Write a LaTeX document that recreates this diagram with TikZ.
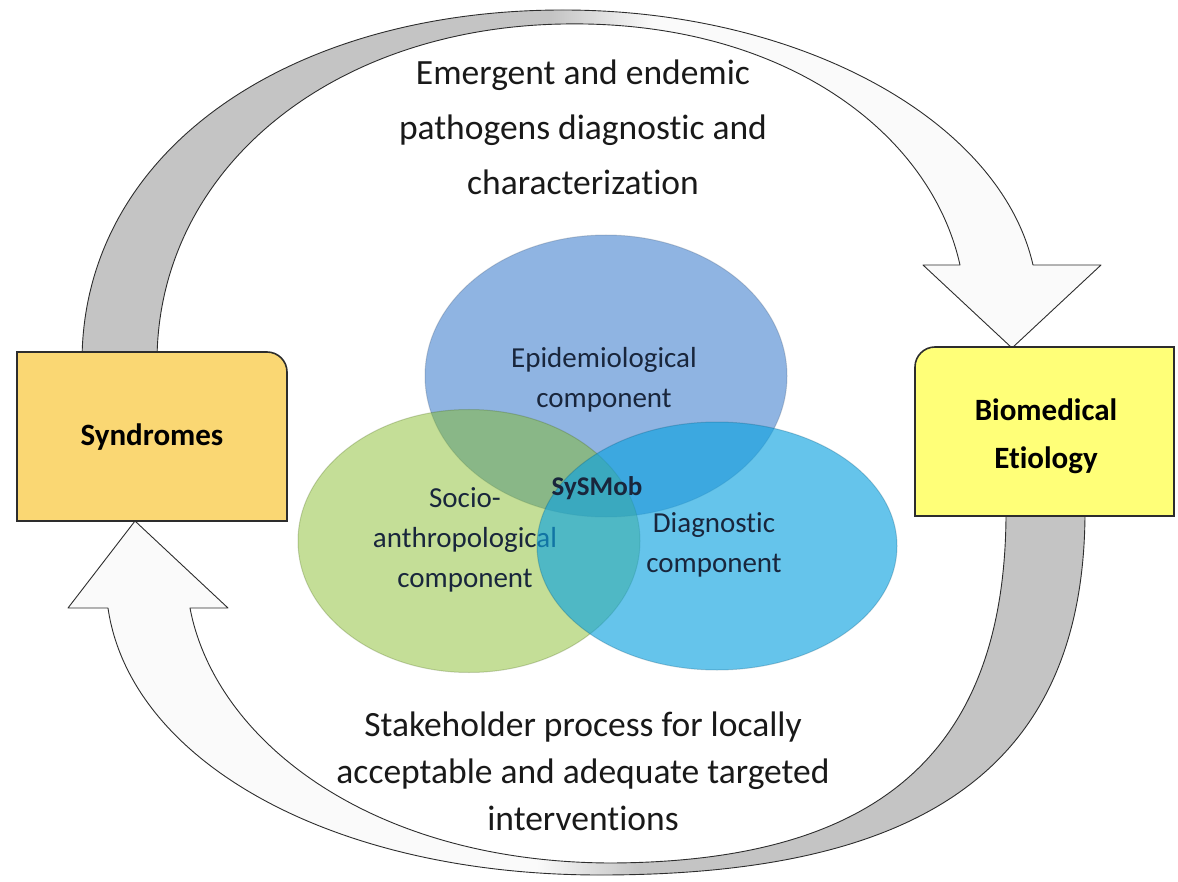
\documentclass[tikz,border=0pt]{standalone}
\usepackage{fontspec}
\setmainfont{Carlito}[Ligatures={NoCommon,NoContextual}]
\usetikzlibrary{shapes.geometric, positioning}

\definecolor{synfill}{RGB}{250,215,115}
\definecolor{biofill}{RGB}{255,255,120}
\definecolor{epifill}{RGB}{143,180,226}
\definecolor{socfill}{RGB}{131,187,37}
\definecolor{diafill}{RGB}{14,162,224}
\definecolor{arcgray}{RGB}{196,196,196}
\definecolor{arcwhite}{RGB}{250,250,250}
\definecolor{edgeline}{RGB}{45,45,45}
\definecolor{compfont}{RGB}{25,38,60}

\pgfdeclarehorizontalshading{toparc}{100bp}{color(0bp)=(arcgray); color(48bp)=(arcgray); color(53bp)=(arcwhite); color(100bp)=(arcwhite)}
\pgfdeclarehorizontalshading{botarc}{100bp}{color(0bp)=(arcwhite); color(48bp)=(arcwhite); color(53bp)=(arcgray); color(100bp)=(arcgray)}

\tikzset{
    box/.style={draw=edgeline, line width=1.6pt},
    arc/.style={draw=edgeline, line width=0.9pt, line join=round, shade},
    comp/.style={ellipse, inner sep=0pt, line width=1pt, draw opacity=0.25},
    big/.style={align=center, font=\fontsize{35.5}{55}\selectfont, text=black!90},
    lbl/.style={align=center, font=\fontsize{29}{40}\selectfont, text=compfont},
    title/.style={align=center, font=\fontsize{31}{48}\selectfont\bfseries},
}

\begin{document}
\begin{tikzpicture}[x=1pt, y=-1pt]
    \useasboundingbox (0,0) rectangle (1178,882);

    % upper arc: Syndromes -> Biomedical Etiology
    \draw[arc, shading=toparc]
        (82,362) .. controls (82,150) and (290,10) .. (563,10)
        .. controls (800,10) and (1000,120) .. (1033,265)
        -- (1101,265) -- (1012,348) -- (923,265) -- (960,265)
        .. controls (930,130) and (780,20) .. (563,24)
        .. controls (330,28) and (157,170) .. (157,362) -- cycle;

    % lower arc: Biomedical Etiology -> Syndromes
    \draw[arc, shading=botarc]
        (1085,506) .. controls (1087,770) and (920,875) .. (600,875)
        .. controls (330,875) and (130,760) .. (108,608)
        -- (68,608) -- (135,521) -- (228,608) -- (190,608)
        .. controls (215,740) and (370,862) .. (610,863)
        .. controls (870,862) and (1008,760) .. (1006,506) -- cycle;

    % boxes
    \draw[box, fill=synfill] (17,521) -- (17,352) -- (267,352)
        arc[start angle=-90, end angle=0, radius=20] -- (287,521) -- cycle;
    \draw[box, fill=biofill] (1174,516) -- (1174,347) -- (935,347)
        arc[start angle=-90, end angle=-180, radius=20] -- (915,516) -- cycle;
    \node[title] (syn) at (152,437) {Syndromes};
    \node[title] (bio) at (1046,436) {Biomedical\\Etiology};

    % components
    \node[comp, fill=epifill, draw=epifill!50!black, minimum width=362pt, minimum height=282pt] (epi) at (606,376) {};
    \node[lbl] (epit) at (604,380) {Epidemiological\\component};
    \node[comp, fill=socfill, fill opacity=0.48, draw=socfill!50!black, minimum width=342pt, minimum height=263pt] (soc) at (469,541) {};
    \node[lbl] (soct) at (465,540) {Socio-\\anthropological\\component};
    \node[comp, fill=diafill, fill opacity=0.64, draw=diafill!50!black, minimum width=360pt, minimum height=248pt] (dia) at (717,546) {};
    \node[lbl] (diat) at (714,545) {Diagnostic\\component};
    \node[lbl, font=\fontsize{27}{32}\selectfont\bfseries] (sys) at (597,488) {SySMob};

    % process texts
    \node[big] (up) at (583,127.5) {Emergent and endemic\\pathogens diagnostic and\\characterization};
    \node[big, font=\fontsize{35.5}{47}\selectfont] (down) at (583,771.5) {Stakeholder process for locally\\acceptable and adequate targeted\\interventions};
\end{tikzpicture}
\end{document}
